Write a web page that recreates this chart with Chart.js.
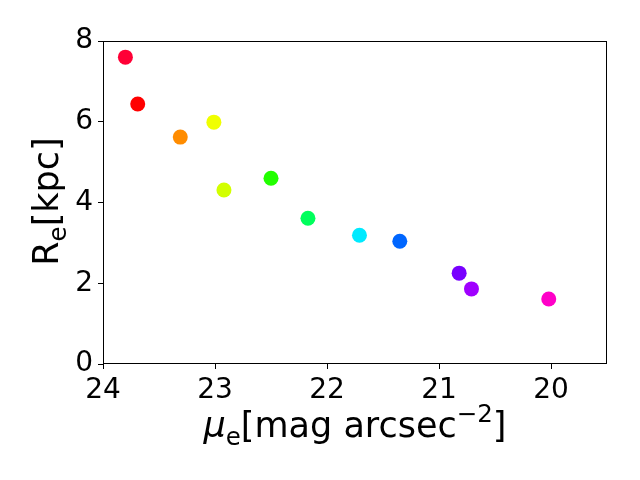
<!DOCTYPE html>
<html>
<head>
<meta charset="utf-8">
<script src="https://cdn.jsdelivr.net/npm/chart.js@4.4.1/dist/chart.umd.min.js"></script>
<style>
  html, body { margin: 0; padding: 0; background: #fff; }
  #wrap { width: 640px; height: 480px; }
</style>
</head>
<body>
<div id="wrap"><canvas id="chart" width="640" height="480"></canvas></div>
<script>
// data
const muE = [23.80, 23.69, 23.31, 23.01, 22.92, 22.50, 22.17, 21.71, 21.35, 20.82, 20.71, 20.02];
const rE = [7.60, 6.44, 5.62, 5.99, 4.31, 4.60, 3.61, 3.19, 3.04, 2.25, 1.86, 1.61];
const pointColors = ['#ff0036', '#ff0000', '#ff8c00', '#f0ff00', '#d2ff00', '#22ff00',
                     '#00ff5c', '#00eaff', '#0066ff', '#7800ff', '#a000ff', '#ff00c8'];
const xTicks = [24, 23, 22, 21, 20];
const yTicks = [0, 2, 4, 6, 8];

const FONT = "'DejaVu Sans'";

// draws a label made of pieces (sub/superscripts) centred on x,y
const drawRich = (ctx, parts, size) => {
    const widths = parts.map(p => {
        ctx.font = `${p.italic ? 'italic ' : ''}${size * (p.scale || 1)}px ${FONT}`;
        return ctx.measureText(p.t).width;
    });
    const total = widths.reduce((a, b) => a + b, 0);
    let x = -total / 2;
    parts.forEach((p, i) => {
        ctx.font = `${p.italic ? 'italic ' : ''}${size * (p.scale || 1)}px ${FONT}`;
        ctx.fillText(p.t, x, (p.dy || 0) * size);
        x += widths[i];
    });
};

const framePlugin = {
    id: 'frame',
    afterDraw(chart) {
        const { ctx, chartArea: a } = chart;
        ctx.save();
        ctx.strokeStyle = '#000';
        ctx.lineWidth = 1;
        ctx.strokeRect(Math.round(a.left) + 0.5, Math.round(a.top) + 0.5,
                       Math.round(a.right - a.left) - 1, Math.round(a.bottom - a.top) - 1);
        ctx.fillStyle = '#000';
        ctx.textBaseline = 'alphabetic';
        ctx.textAlign = 'left';

        // x axis title
        ctx.save();
        ctx.translate((a.left + a.right) / 2, 437);
        drawRich(ctx, [
            { t: 'μ', italic: true },
            { t: 'e', scale: 0.7, dy: 0.22 },
            { t: '[mag arcsec' },
            { t: '−2', scale: 0.7, dy: -0.42 },
            { t: ']' }
        ], 35);
        ctx.restore();

        // y axis title
        ctx.save();
        ctx.translate(58, (a.top + a.bottom) / 2 - 1);
        ctx.rotate(-Math.PI / 2);
        drawRich(ctx, [
            { t: 'R' },
            { t: 'e', scale: 0.7, dy: 0.22 },
            { t: '[kpc]' }
        ], 35);
        ctx.restore();
        ctx.restore();
    }
};

const ctx = document.getElementById('chart').getContext('2d');
new Chart(ctx, {
    type: 'scatter',
    data: {
        datasets: [{
            data: muE.map((x, i) => ({ x: x, y: rE[i] })),
            pointBackgroundColor: pointColors,
            pointBorderWidth: 0,
            pointRadius: 7.5,
            pointHoverRadius: 7.5
        }]
    },
    options: {
        responsive: false,
        animation: false,
        layout: { padding: { top: 41, right: 33, left: 0, bottom: 0 } },
        plugins: { legend: { display: false }, tooltip: { enabled: false } },
        scales: {
            x: {
                type: 'linear',
                reverse: true,
                min: 19.5,
                max: 24,
                afterBuildTicks: s => { s.ticks = xTicks.map(v => ({ value: v })); },
                afterFit: s => { s.height = 116; },
                border: { display: false },
                grid: { drawOnChartArea: false, tickLength: 5, color: '#000', lineWidth: 1 },
                ticks: { color: '#000', padding: 5, maxRotation: 0,
                         font: { family: FONT, size: 28 } }
            },
            y: {
                type: 'linear',
                min: 0,
                max: 8,
                afterBuildTicks: s => { s.ticks = yTicks.map(v => ({ value: v })); },
                afterFit: s => { s.width = 103; },
                border: { display: false },
                grid: { drawOnChartArea: false, tickLength: 5, color: '#000', lineWidth: 1 },
                ticks: { color: '#000', padding: 5,
                         font: { family: FONT, size: 28 } }
            }
        }
    },
    plugins: [framePlugin]
});
</script>
</body>
</html>
